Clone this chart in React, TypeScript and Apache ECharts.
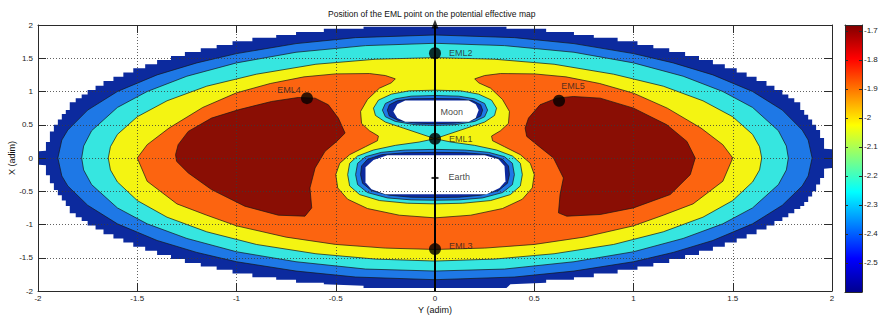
import React, { useEffect, useRef } from 'react';
import * as echarts from 'echarts';

type Pt = [number, number];

// ---- contour region boundaries (data coords: [Y(adim), X(adim)]) ----
const outerDarkBlue: Pt[] = [
  [0, 1.975], [0.36, 1.975], [0.36, 1.943], [0.56, 1.943], [0.56, 1.896], [0.7, 1.896], [0.7, 1.85], [0.8, 1.85], [0.8, 1.81],
  [0.92, 1.81], [0.92, 1.754], [1.02, 1.754], [1.02, 1.699], [1.1, 1.699], [1.1, 1.649], [1.18, 1.649], [1.18, 1.594],
  [1.26, 1.594], [1.26, 1.534], [1.33, 1.534], [1.33, 1.475], [1.4, 1.475], [1.4, 1.41], [1.46, 1.41], [1.46, 1.35],
  [1.52, 1.35], [1.52, 1.284], [1.57, 1.284], [1.57, 1.223], [1.62, 1.223], [1.62, 1.158], [1.67, 1.158], [1.67, 1.087],
  [1.71, 1.087], [1.71, 1.024], [1.75, 1.024], [1.75, 0.956], [1.78, 0.956], [1.78, 0.9], [1.81, 0.9], [1.81, 0.84],
  [1.84, 0.84], [1.84, 0.72], [1.86, 0.72], [1.86, 0.65], [1.88, 0.65], [1.88, 0.58], [1.9, 0.58], [1.9, 0.5], [1.92, 0.5],
  [1.92, 0.42], [1.94, 0.42], [1.94, 0.3], [1.96, 0.3], [1.96, 0.14], [2.0, 0.13], [2.0, -0.15], [1.96, -0.16], [1.96, -0.3],
  [1.94, -0.3], [1.94, -0.4], [1.92, -0.4], [1.92, -0.5], [1.9, -0.5], [1.9, -0.58], [1.88, -0.58], [1.88, -0.66], [1.86, -0.66],
  [1.86, -0.72], [1.84, -0.72], [1.84, -0.766], [1.81, -0.766], [1.81, -0.832], [1.78, -0.832], [1.78, -0.891], [1.75, -0.891],
  [1.75, -0.946], [1.71, -0.946], [1.71, -1.014], [1.67, -1.014], [1.67, -1.076], [1.62, -1.076], [1.62, -1.146],
  [1.57, -1.146], [1.57, -1.211], [1.52, -1.211], [1.52, -1.271], [1.46, -1.271], [1.46, -1.336], [1.4, -1.336],
  [1.4, -1.396], [1.33, -1.396], [1.33, -1.46], [1.26, -1.46], [1.26, -1.518], [1.18, -1.518], [1.18, -1.578], [1.1, -1.578],
  [1.1, -1.633], [1.02, -1.633], [1.02, -1.682], [0.92, -1.682], [0.92, -1.736], [0.8, -1.736], [0.8, -1.792], [0.7, -1.792],
  [0.7, -1.831], [0.56, -1.831], [0.56, -1.877], [0.38, -1.9], [0.36, -1.955], [0, -1.955],
  [-0.36, -1.955], [-0.36, -1.92], [-0.56, -1.9], [-0.56, -1.877], [-0.7, -1.877], [-0.7, -1.831], [-0.8, -1.831],
  [-0.8, -1.792], [-0.92, -1.792], [-0.92, -1.736], [-1.02, -1.736], [-1.02, -1.682], [-1.1, -1.682], [-1.1, -1.633],
  [-1.18, -1.633], [-1.18, -1.578], [-1.26, -1.578], [-1.26, -1.518], [-1.33, -1.518], [-1.33, -1.46], [-1.4, -1.46],
  [-1.4, -1.396], [-1.46, -1.396], [-1.46, -1.336], [-1.52, -1.336], [-1.52, -1.271], [-1.57, -1.271], [-1.57, -1.211],
  [-1.62, -1.211], [-1.62, -1.146], [-1.67, -1.146], [-1.67, -1.076], [-1.71, -1.076], [-1.71, -1.014], [-1.75, -1.014],
  [-1.75, -0.946], [-1.78, -0.946], [-1.78, -0.891], [-1.81, -0.891], [-1.81, -0.832], [-1.84, -0.832], [-1.84, -0.72],
  [-1.86, -0.72], [-1.86, -0.64], [-1.88, -0.64], [-1.88, -0.56], [-1.9, -0.56], [-1.9, -0.48], [-1.92, -0.48], [-1.92, -0.38],
  [-1.94, -0.38], [-1.94, -0.26], [-1.96, -0.26], [-1.96, -0.11], [-1.995, -0.1], [-1.995, 0.1], [-1.96, 0.11], [-1.96, 0.24],
  [-1.94, 0.24], [-1.94, 0.4], [-1.92, 0.4], [-1.92, 0.5], [-1.9, 0.5], [-1.9, 0.58], [-1.88, 0.58], [-1.88, 0.66],
  [-1.86, 0.66], [-1.86, 0.72], [-1.84, 0.72], [-1.84, 0.84], [-1.81, 0.84], [-1.81, 0.9], [-1.78, 0.9], [-1.78, 0.956],
  [-1.75, 0.956], [-1.75, 1.024], [-1.71, 1.024], [-1.71, 1.087], [-1.67, 1.087], [-1.67, 1.158], [-1.62, 1.158],
  [-1.62, 1.223], [-1.57, 1.223], [-1.57, 1.284], [-1.52, 1.284], [-1.52, 1.35], [-1.46, 1.35], [-1.46, 1.41], [-1.4, 1.41],
  [-1.4, 1.475], [-1.33, 1.475], [-1.33, 1.534], [-1.26, 1.534], [-1.26, 1.594], [-1.18, 1.594], [-1.18, 1.649],
  [-1.1, 1.649], [-1.1, 1.699], [-1.02, 1.699], [-1.02, 1.754], [-0.92, 1.754], [-0.92, 1.81], [-0.8, 1.81], [-0.8, 1.85],
  [-0.7, 1.85], [-0.7, 1.896], [-0.56, 1.896], [-0.56, 1.943], [-0.36, 1.943], [-0.36, 1.975],
];

const blueEdge: Pt[] = [
  [0, 1.85], [0.4, 1.81], [0.7, 1.72], [1.0, 1.57], [1.2, 1.43], [1.4, 1.25], [1.6, 1.0], [1.75, 0.72], [1.85, 0.42],
  [1.88, 0.27], [1.9, 0], [1.88, -0.27], [1.85, -0.42], [1.75, -0.71], [1.6, -0.99], [1.4, -1.24], [1.2, -1.42], [1.0, -1.56],
  [0.7, -1.7], [0.4, -1.79], [0, -1.83], [-0.4, -1.79], [-0.7, -1.7], [-1.0, -1.56], [-1.2, -1.42], [-1.4, -1.24],
  [-1.6, -0.99], [-1.75, -0.71], [-1.85, -0.42], [-1.88, -0.27], [-1.9, 0], [-1.88, 0.27], [-1.85, 0.42], [-1.75, 0.72],
  [-1.6, 1.0], [-1.4, 1.25], [-1.2, 1.43], [-1.0, 1.57], [-0.7, 1.72], [-0.4, 1.81],
];

const cyanEdge: Pt[] = [
  [0, 1.725], [0.35, 1.69], [0.7, 1.59], [1.0, 1.43], [1.25, 1.23], [1.45, 1.0], [1.6, 0.76], [1.73, 0.41], [1.77, 0.18],
  [1.78, 0], [1.77, -0.18], [1.73, -0.4], [1.6, -0.75], [1.45, -0.99], [1.25, -1.21], [1.0, -1.41], [0.7, -1.56],
  [0.35, -1.67], [0, -1.7], [-0.35, -1.67], [-0.7, -1.56], [-1.0, -1.41], [-1.25, -1.21], [-1.45, -0.99], [-1.6, -0.75],
  [-1.73, -0.4], [-1.77, -0.18], [-1.78, 0], [-1.77, 0.18], [-1.73, 0.41], [-1.6, 0.76], [-1.45, 1.0], [-1.25, 1.23],
  [-1.0, 1.43], [-0.7, 1.59], [-0.35, 1.69],
];

const yellowEdge: Pt[] = [
  [0, 1.51], [0.3, 1.485], [0.6, 1.41], [0.9, 1.26], [1.15, 1.08], [1.35, 0.86], [1.5, 0.62], [1.6, 0.355], [1.635, 0.17],
  [1.646, 0], [1.635, -0.18], [1.6, -0.36], [1.5, -0.64], [1.35, -0.89], [1.15, -1.11], [0.9, -1.3], [0.6, -1.44],
  [0.3, -1.52], [0, -1.55], [-0.3, -1.52], [-0.6, -1.44], [-0.9, -1.3], [-1.15, -1.11], [-1.35, -0.89], [-1.5, -0.64],
  [-1.6, -0.36], [-1.635, -0.18], [-1.646, 0], [-1.635, 0.17], [-1.6, 0.355], [-1.5, 0.62], [-1.35, 0.86], [-1.15, 1.08],
  [-0.9, 1.26], [-0.6, 1.41], [-0.3, 1.485],
];

const orangeRegion: Pt[] = [
  [-0.2, 1.19], [-0.25, 1.24], [-0.33, 1.27], [-0.5, 1.265], [-0.66, 1.22], [-0.83, 1.12], [-1.0, 0.98], [-1.17, 0.76],
  [-1.34, 0.45], [-1.45, 0.2], [-1.5, 0], [-1.45, -0.35], [-1.3, -0.69], [-1.15, -0.86], [-1.0, -1.02], [-0.75, -1.19],
  [-0.5, -1.3], [-0.25, -1.355], [0, -1.375], [0.25, -1.355], [0.5, -1.3], [0.75, -1.19], [1.0, -1.02], [1.15, -0.86],
  [1.3, -0.69], [1.45, -0.35], [1.5, 0], [1.45, 0.2], [1.34, 0.45], [1.17, 0.75], [1.0, 0.975], [0.83, 1.12], [0.66, 1.22],
  [0.5, 1.265], [0.33, 1.27], [0.25, 1.24], [0.2, 1.19],
  [0.22, 1.13], [0.28, 1.05], [0.34, 0.88], [0.375, 0.7], [0.37, 0.52], [0.33, 0.41], [0.285, 0.33], [0.29, 0.26],
  [0.35, 0.17], [0.43, 0.05], [0.48, -0.08], [0.5, -0.25], [0.49, -0.45], [0.44, -0.62], [0.34, -0.76], [0.18, -0.86],
  [0, -0.9], [-0.18, -0.86], [-0.34, -0.76], [-0.44, -0.62], [-0.49, -0.45], [-0.5, -0.25], [-0.48, -0.08], [-0.43, 0.05],
  [-0.35, 0.17], [-0.29, 0.26], [-0.285, 0.33], [-0.33, 0.41], [-0.37, 0.52], [-0.375, 0.7], [-0.34, 0.88], [-0.28, 1.05],
  [-0.22, 1.13],
];

const redLobeLeft: Pt[] = [
  [-1.307, 0.05], [-1.294, 0.2], [-1.243, 0.4], [-1.126, 0.6], [-0.991, 0.725], [-0.823, 0.85], [-0.689, 0.91],
  [-0.604, 0.9], [-0.537, 0.8], [-0.487, 0.6], [-0.453, 0.375], [-0.495, 0.25], [-0.554, 0.1], [-0.604, -0.15],
  [-0.63, -0.45], [-0.621, -0.75], [-0.655, -0.875], [-0.789, -0.86], [-0.958, -0.725], [-1.126, -0.475],
  [-1.243, -0.225], [-1.302, -0.05],
];

const redLobeRight: Pt[] = [
  [0.454, 0.45], [0.471, 0.6], [0.529, 0.8], [0.613, 0.9], [0.697, 0.925], [0.832, 0.9], [1.0, 0.75], [1.168, 0.5],
  [1.269, 0.25], [1.311, 0], [1.286, -0.25], [1.185, -0.55], [1.0, -0.75], [0.832, -0.85], [0.664, -0.875],
  [0.622, -0.825], [0.63, -0.55], [0.647, -0.3], [0.597, 0], [0.513, 0.2], [0.462, 0.325],
];

const moonCyan: Pt[] = [
  [0, 1.02], [0.13, 1.01], [0.22, 0.96], [0.285, 0.87], [0.31, 0.75], [0.3, 0.64], [0.25, 0.54], [0.16, 0.45], [0.07, 0.36],
  [0, 0.29], [-0.07, 0.36], [-0.16, 0.45], [-0.25, 0.54], [-0.3, 0.64], [-0.31, 0.75], [-0.285, 0.87], [-0.22, 0.96],
  [-0.13, 1.01],
];
const moonBlue: Pt[] = [
  [0, 0.94], [0.12, 0.93], [0.2, 0.89], [0.25, 0.82], [0.265, 0.72], [0.25, 0.62], [0.2, 0.55], [0.1, 0.5], [0, 0.49],
  [-0.1, 0.5], [-0.2, 0.55], [-0.25, 0.62], [-0.265, 0.72], [-0.25, 0.82], [-0.2, 0.89], [-0.12, 0.93],
];
const moonDarkBlue: Pt[] = [
  [0, 0.895], [0.12, 0.89], [0.19, 0.86], [0.23, 0.8], [0.24, 0.72], [0.23, 0.63], [0.185, 0.565], [0.1, 0.525], [0, 0.515],
  [-0.1, 0.525], [-0.185, 0.565], [-0.23, 0.63], [-0.24, 0.72], [-0.23, 0.8], [-0.19, 0.86], [-0.12, 0.89],
];
const moonWhite: Pt[] = [
  [-0.15, 0.865], [0.17, 0.865], [0.205, 0.81], [0.22, 0.72], [0.205, 0.6], [0.17, 0.545], [-0.15, 0.545], [-0.19, 0.6],
  [-0.21, 0.7], [-0.19, 0.81],
];

const earthCyan: Pt[] = [
  [0, 0.29], [0.08, 0.24], [0.2, 0.19], [0.31, 0.12], [0.39, 0.03], [0.43, -0.08], [0.44, -0.25], [0.43, -0.42],
  [0.38, -0.55], [0.28, -0.64], [0.14, -0.68], [0, -0.69], [-0.14, -0.68], [-0.28, -0.64], [-0.38, -0.55], [-0.43, -0.42],
  [-0.44, -0.25], [-0.43, -0.08], [-0.39, 0.03], [-0.31, 0.12], [-0.2, 0.19], [-0.08, 0.24],
];
const earthBlue: Pt[] = [
  [0, 0.13], [0.15, 0.12], [0.27, 0.085], [0.35, 0.02], [0.39, -0.08], [0.4, -0.25], [0.39, -0.4], [0.34, -0.52],
  [0.24, -0.6], [0.12, -0.63], [0, -0.635], [-0.12, -0.63], [-0.24, -0.6], [-0.34, -0.52], [-0.39, -0.4], [-0.4, -0.25],
  [-0.39, -0.08], [-0.35, 0.02], [-0.27, 0.085], [-0.15, 0.12],
];
const earthDarkBlue: Pt[] = [
  [0, 0.085], [0.15, 0.08], [0.27, 0.05], [0.34, -0.02], [0.37, -0.12], [0.375, -0.25], [0.365, -0.38], [0.32, -0.49],
  [0.23, -0.56], [0.12, -0.59], [0, -0.595], [-0.12, -0.59], [-0.23, -0.56], [-0.32, -0.49], [-0.365, -0.38],
  [-0.375, -0.25], [-0.37, -0.12], [-0.34, -0.02], [-0.27, 0.05], [-0.15, 0.08],
];
const earthWhite: Pt[] = [
  [-0.24, 0.04], [0.25, 0.04], [0.32, -0.02], [0.35, -0.12], [0.355, -0.35], [0.325, -0.45], [0.26, -0.545],
  [-0.25, -0.545], [-0.32, -0.47], [-0.35, -0.37], [-0.35, -0.14], [-0.31, -0.03],
];

// ---- points & labels ----
const emlNames = ['EML1', 'EML2', 'EML3', 'EML4', 'EML5'];
const emlX = [0, 0, 0, -0.645, 0.625];
const emlY = [0.29, 1.575, -1.37, 0.9, 0.86];
const bodyNames = ['Moon', 'Earth'];
const bodyX = [0.028, 0.068];
const bodyY = [0.696, -0.286];
const earthMarkX = [0];
const earthMarkY = [-0.3];
const axisLineX = [0, 0];
const axisLineY = [-2, 2];
const colorbarRange = [-2.6, -1.68];
const jetStops = [0, 0.125, 0.375, 0.625, 0.875, 1];
const jetColors = ['#00008f', '#0000ff', '#00ffff', '#ffff00', '#ff0000', '#800000'];

// ---- styles ----
const DKBLUE = '#0c2a9e';
const BLUE = '#1e78e6';
const CYAN = '#36e6e0';
const YELLOW = '#f4f412';
const ORANGE = '#fc6410';
const DKRED = '#8a0e04';
const WHITE = '#ffffff';
const FONT = 'Liberation Sans, Arial, Helvetica, sans-serif';

export default function App() {
  const ref = useRef<HTMLDivElement>(null);
  useEffect(() => {
    const chart = echarts.init(ref.current as HTMLDivElement, undefined, { renderer: 'svg' });

    const layers = [
      { pts: outerDarkBlue, fill: DKBLUE, line: false },
      { pts: blueEdge, fill: BLUE, line: true },
      { pts: cyanEdge, fill: CYAN, line: true },
      { pts: yellowEdge, fill: YELLOW, line: true },
      { pts: orangeRegion, fill: ORANGE, line: true },
      { pts: redLobeLeft, fill: DKRED, line: true },
      { pts: redLobeRight, fill: DKRED, line: true },
      { pts: moonCyan, fill: CYAN, line: true },
      { pts: earthCyan, fill: CYAN, line: true },
      { pts: moonBlue, fill: BLUE, line: true },
      { pts: earthBlue, fill: BLUE, line: true },
      { pts: moonDarkBlue, fill: DKBLUE, line: true },
      { pts: earthDarkBlue, fill: DKBLUE, line: true },
      { pts: moonWhite, fill: WHITE, line: false },
      { pts: earthWhite, fill: WHITE, line: false },
    ];

    const labelCfg: Record<string, any> = {
      EML1: { position: 'right', distance: 8 },
      EML2: { position: 'right', distance: 8 },
      EML3: { position: 'right', distance: 8, offset: [0, -3] },
      EML4: { position: 'inside', offset: [-18, -8] },
      EML5: { position: 'inside', offset: [14, -15] },
    };

    const axisColor = '#2a2a2a';
    const mainAxisCommon = {
      type: 'value',
      min: -2,
      max: 2,
      interval: 0.5,
      gridIndex: 0,
      z: 5,
      axisLine: { show: true, onZero: false, lineStyle: { color: axisColor, width: 1 } },
      axisTick: { show: true, inside: true, length: 8, lineStyle: { color: axisColor, width: 1 } },
    };
    const cbAxisCommon = {
      type: 'value',
      min: colorbarRange[0],
      max: colorbarRange[1],
      interval: 0.1,
      gridIndex: 1,
      z: 5,
      axisLine: { show: true, onZero: false, lineStyle: { color: axisColor, width: 1 } },
      axisTick: { show: true, inside: true, length: 3, lineStyle: { color: axisColor, width: 1 } },
      splitLine: { show: false },
    };

    chart.setOption({
      animation: false,
      backgroundColor: '#ffffff',
      textStyle: { fontFamily: FONT },
      title: {
        text: 'Position of the EML point on the potential effective map',
        left: 323,
        top: 4,
        textStyle: { fontSize: 8.5, fontWeight: 'normal', color: '#111', fontFamily: FONT },
      },
      grid: [
        { left: 38, top: 25, width: 794, height: 266, show: false, containLabel: false, outerBoundsMode: 'none' },
        { left: 845, top: 25, width: 17, height: 267, show: false, containLabel: false, outerBoundsMode: 'none' },
      ],
      xAxis: [
        {
          ...mainAxisCommon,
          position: 'bottom',
          name: 'Y (adim)',
          nameLocation: 'middle',
          nameGap: 14,
          nameMoveOverlap: false,
          nameTextStyle: { fontSize: 9, color: '#111', fontFamily: FONT },
          axisLabel: { fontSize: 8, color: '#1a1a1a', margin: 3, fontFamily: FONT },
          splitLine: { show: true, lineStyle: { type: [1, 2], color: '#3a3a3a', width: 0.8 } },
        },
        {
          ...mainAxisCommon,
          position: 'top',
          axisLabel: { show: false },
          splitLine: { show: false },
        },
        {
          type: 'value', min: 0, max: 1, gridIndex: 1, position: 'bottom', z: 5,
          axisLine: { show: true, onZero: false, lineStyle: { color: axisColor, width: 1 } },
          axisTick: { show: false }, axisLabel: { show: false }, splitLine: { show: false },
        },
        {
          type: 'value', min: 0, max: 1, gridIndex: 1, position: 'top', z: 5,
          axisLine: { show: true, onZero: false, lineStyle: { color: axisColor, width: 1 } },
          axisTick: { show: false }, axisLabel: { show: false }, splitLine: { show: false },
        },
      ],
      yAxis: [
        {
          ...mainAxisCommon,
          position: 'left',
          name: 'X (adim)',
          nameLocation: 'middle',
          nameGap: 22,
          nameMoveOverlap: false,
          nameTextStyle: { fontSize: 9, color: '#111', fontFamily: FONT },
          axisLabel: { fontSize: 8, color: '#1a1a1a', margin: 5, fontFamily: FONT },
          splitLine: { show: true, lineStyle: { type: [1, 2], color: '#3a3a3a', width: 0.8 } },
        },
        {
          ...mainAxisCommon,
          position: 'right',
          axisLabel: { show: false },
          splitLine: { show: false },
        },
        {
          ...cbAxisCommon,
          position: 'right',
          axisLabel: { fontSize: 8, color: '#1a1a1a', margin: 2, showMinLabel: false, showMaxLabel: false, fontFamily: FONT },
        },
        {
          ...cbAxisCommon,
          position: 'left',
          axisLabel: { show: false },
        },
      ],
      series: [
        {
          type: 'custom',
          name: 'contours',
          xAxisIndex: 0,
          yAxisIndex: 0,
          clip: true,
          silent: true,
          z: 2,
          data: layers.map(() => [0, 0]),
          renderItem: (params: any, api: any) => {
            const L = layers[params.dataIndex];
            return {
              type: 'polygon',
              shape: { points: L.pts.map((p) => api.coord(p)) },
              style: {
                fill: L.fill,
                stroke: L.line ? '#161616' : 'none',
                lineWidth: L.line ? 0.7 : 0,
              },
            };
          },
        },
        {
          type: 'custom',
          name: 'colorbar',
          xAxisIndex: 2,
          yAxisIndex: 2,
          silent: true,
          z: 2,
          data: [[0, colorbarRange[0]]],
          renderItem: (_params: any, api: any) => {
            const a = api.coord([0, colorbarRange[1]]);
            const b = api.coord([1, colorbarRange[0]]);
            return {
              type: 'rect',
              shape: { x: a[0], y: a[1], width: b[0] - a[0], height: b[1] - a[1] },
              style: {
                fill: new echarts.graphic.LinearGradient(
                  0, 1, 0, 0,
                  jetStops.map((o, i) => ({ offset: o, color: jetColors[i] }))
                ),
              },
            };
          },
        },
        {
          type: 'line',
          name: 'axis line',
          xAxisIndex: 0,
          yAxisIndex: 0,
          z: 7,
          silent: true,
          symbol: 'none',
          lineStyle: { color: '#000', width: 2 },
          data: axisLineX.map((x, i) => [x, axisLineY[i]]),
        },
        {
          type: 'scatter',
          name: 'arrow',
          xAxisIndex: 0,
          yAxisIndex: 0,
          z: 8,
          silent: true,
          symbol: 'triangle',
          symbolSize: [7, 9],
          symbolOffset: [0, -1],
          itemStyle: { color: '#000' },
          data: [[axisLineX[1], axisLineY[1]]],
        },
        {
          type: 'scatter',
          name: 'earth mark',
          xAxisIndex: 0,
          yAxisIndex: 0,
          z: 8,
          silent: true,
          symbol: 'rect',
          symbolSize: [7, 2],
          itemStyle: { color: '#000' },
          data: earthMarkX.map((x, i) => [x, earthMarkY[i]]),
        },
        {
          type: 'scatter',
          name: 'EML',
          xAxisIndex: 0,
          yAxisIndex: 0,
          z: 9,
          silent: true,
          symbol: 'circle',
          symbolSize: 12,
          itemStyle: { color: '#000' },
          data: emlNames.map((n, i) => ({
            value: [emlX[i], emlY[i]],
            label: {
              show: true,
              formatter: n,
              fontSize: 9,
              color: '#2a2020',
              fontFamily: FONT,
              ...labelCfg[n],
            },
          })),
        },
        {
          type: 'scatter',
          name: 'bodies',
          xAxisIndex: 0,
          yAxisIndex: 0,
          z: 9,
          silent: true,
          symbolSize: 0,
          itemStyle: { color: 'transparent' },
          data: bodyNames.map((n, i) => ({
            value: [bodyX[i], bodyY[i]],
            label: {
              show: true,
              formatter: n,
              position: 'right',
              distance: 0,
              fontSize: 9,
              color: '#111',
              fontFamily: FONT,
            },
          })),
        },
      ],
    });
    return () => chart.dispose();
  }, []);
  return (
    <div
      ref={ref}
      style={{ position: 'fixed', left: 0, top: 0, width: 879, height: 324, background: '#fff' }}
    />
  );
}
